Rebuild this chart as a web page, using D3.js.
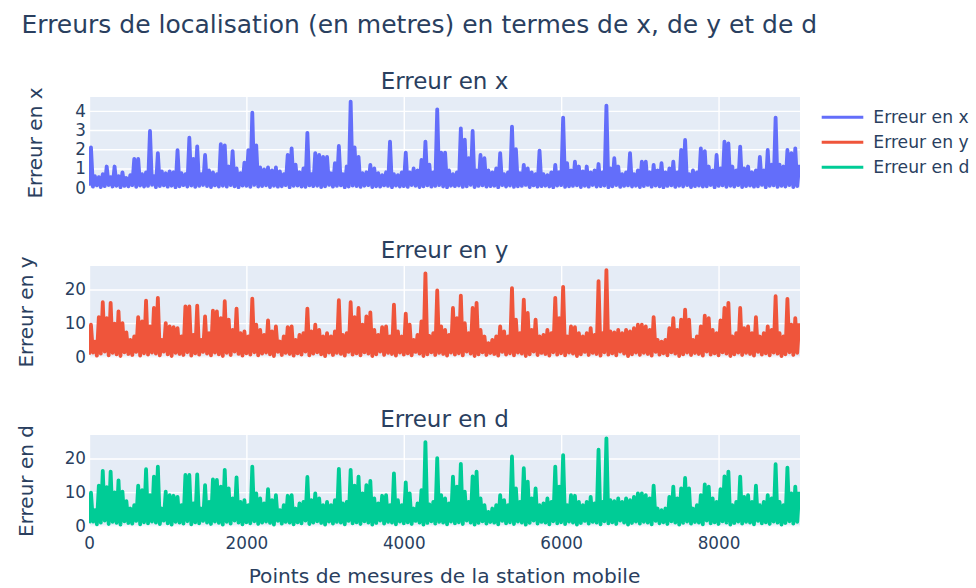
<!DOCTYPE html>
<html>
<head>
<meta charset="utf-8">
<script src="https://cdn.jsdelivr.net/npm/d3@7"></script>
<style>
  body { margin: 0; background: #fff; }
  svg { display: block; }
  text { font-family: "DejaVu Sans", Verdana, sans-serif; fill: #2a3f5f; }
</style>
</head>
<body>
<svg id="chart" width="976" height="588"></svg>
<script>
// Sample spacing (point index step between consecutive values)
const pas = 25;
const indexMax = 9035;

const titre = "Erreurs de localisation (en metres) en termes de x, de y et de d";
const titreAxeX = "Points de mesures de la station mobile";
const nomsSeries = ["Erreur en x", "Erreur en y", "Erreur en d"];
const couleurs = ["#636efa", "#EF553B", "#00cc96"];

const ticksX = [0, 2000, 4000, 6000, 8000];
const ticksYx = [0, 1, 2, 3, 4];
const ticksYy = [0, 10, 20];
const ticksYd = [0, 10, 20];

// Error in x: local minima and peaks, alternating along the measurement index
const creuxX = [
  0.1,0.05,0.12,0.03,0.08,0.14,0.06,0.1,0.02,0.09,
  0.07,0.13,0.04,0.11,0.06,0.09,0.15,0.03,0.08,0.12,
  0.05,0.1,0.02,0.07,0.13,0.06,0.11,0.04,0.09,0.14,
  0.08,0.03,0.12,0.06,0.1,0.05,0.13,0.07,0.02,0.11,
  0.09,0.04,0.14,0.06,0.08,0.12,0.03,0.1,0.05,0.07,
  0.13,0.02,0.09,0.11,0.06,0.04,0.12,0.08,0.1,0.03,
  0.07,0.14,0.05,0.09,0.12,0.02,0.06,0.11,0.08,0.04,
  0.1,0.13,0.03,0.07,0.05,0.12,0.09,0.02,0.11,0.06,
  0.08,0.04,0.14,0.1,0.03,0.07,0.12,0.05,0.09,0.13,
  0.06,0.02,0.1,0.08,0.11,0.04,0.07,0.14,0.03,0.09,
  0.12,0.05,0.08,0.1,0.02,0.13,0.06,0.11,0.04,0.07,
  0.09,0.14,0.03,0.12,0.05,0.08,0.1,0.06,0.02,0.11,
  0.13,0.04,0.07,0.09,0.12,0.03,0.1,0.05,0.14,0.06,
  0.08,0.11,0.02,0.07,0.13,0.04,0.09,0.12,0.06,0.1,
  0.03,0.08,0.14,0.05,0.11,0.07,0.02,0.09,0.12,0.04,
  0.1,0.06,0.13,0.03,0.08,0.11,0.05,0.07,0.14,0.02,
  0.09,0.12,0.04,0.1,0.06,0.13,0.03,0.08,0.11,0.05,
  0.07,0.14,0.02,0.09,0.12,0.04,0.1,0.06,0.13,0.03,
  0.08
];
const picsX = [
  2.1,0.6,0.55,0.7,1.1,0.55,1.1,0.6,0.8,0.5,
  0.65,1.5,1.5,0.7,0.8,2.95,0.6,1.8,0.85,0.75,
  0.85,0.8,1.95,0.75,0.7,2.6,1.5,2.15,0.7,1.7,
  0.9,0.8,0.7,2.27,2.2,1.1,1.9,1.0,0.75,1.3,
  1.95,3.9,2.2,1.05,0.95,1.05,0.9,1.05,0.85,0.7,
  1.7,2.05,1.2,0.8,1.0,2.85,0.7,1.8,1.7,1.6,
  1.6,0.75,1.27,2.17,0.7,1.1,4.48,2.1,1.6,0.75,
  0.8,1.18,1.0,0.75,0.65,0.8,2.4,0.7,0.65,0.8,
  1.82,0.8,1.0,0.9,1.44,2.4,1.2,0.8,4.08,1.82,
  1.82,0.9,0.7,0.8,3.09,2.5,1.53,2.95,0.9,1.7,
  1.53,0.9,0.8,1.0,1.8,0.7,0.8,3.18,2.0,0.75,
  1.18,1.0,0.8,0.7,1.93,0.7,0.65,0.8,1.18,0.8,
  3.65,1.27,0.9,1.35,1.1,0.85,1.1,0.8,0.9,1.23,
  0.8,4.27,1.0,1.53,1.1,0.7,0.8,1.8,0.7,0.9,
  1.35,1.35,0.8,1.18,0.9,1.27,0.8,1.0,1.35,0.8,
  1.96,2.48,0.7,0.9,0.8,2.05,1.9,1.1,0.9,1.7,
  1.0,2.4,2.3,1.1,0.9,2.14,1.0,1.1,0.8,0.9,
  1.6,0.9,1.96,1.2,3.65,1.2,1.1,1.96,1.8,2.05,
  1.2
];

// Error in y
const creuxY = [
  0.6,1.2,0.3,0.9,1.5,0.4,1.1,0.7,0.2,1.3,
  0.8,0.5,1.4,0.3,1.0,0.6,1.2,0.9,0.4,1.5,
  0.7,0.2,1.1,0.8,0.5,1.3,0.3,1.0,0.6,1.4,
  0.9,0.4,1.2,0.7,0.2,1.1,0.5,1.5,0.8,0.3,
  1.0,0.6,1.3,0.4,0.9,1.2,0.7,0.2,1.4,0.5,
  1.1,0.8,0.3,1.0,0.6,1.5,0.4,0.9,1.3,0.7,
  0.2,1.2,0.5,1.1,0.8,0.3,1.4,0.6,1.0,0.4,
  1.3,0.9,0.2,0.7,1.5,0.5,1.1,0.8,0.3,1.2,
  0.6,1.0,0.4,1.4,0.9,0.2,0.7,1.3,0.5,1.1,
  0.8,0.3,1.2,0.6,1.0,0.4,1.5,0.9,0.2,0.7,
  1.3,0.5,1.1,0.8,0.3,1.4,0.6,1.0,0.4,1.2,
  0.9,0.2,0.7,1.5,0.5,1.1,0.8,0.3,1.3,0.6,
  1.0,0.4,1.2,0.9,0.2,0.7,1.4,0.5,1.1,0.8,
  0.3,1.3,0.6,1.0,0.4,1.5,0.9,0.2,0.7,1.2,
  0.5,1.1,0.8,0.3,1.4,0.6,1.0,0.4,1.3,0.9,
  0.2,0.7,1.2,0.5,1.1,0.8,0.3,1.5,0.6,1.0,
  0.4,1.3,0.9,0.2,0.7,1.2,0.5,1.1,0.8,0.3,
  1.4,0.6,1.0,0.4,1.2,0.9,0.2,0.7,1.3,0.5,
  1.1
];
const picsY = [
  9.5,4.5,11.8,16.2,11.5,16,9.8,13.5,10,7.2,
  5,6,11.8,10.5,16.7,9,14.5,17.5,5,10,
  9,8.8,8.5,6,15,15,6.5,15.2,5,12,
  7,13.7,13.5,11.5,16.5,11,8,14.3,7,7.5,
  6,17.3,9.5,8,6.5,10.8,7.5,9,4.5,6,
  8.8,9,5,6.5,7,14.3,7.5,9.5,8,6,
  7,6,7.5,16.8,6.5,7,16.2,11.8,14.5,9.5,
  12,13.2,8,6.5,8.8,9,6,15.5,7.5,6,
  12.8,9.5,5,6.5,10.5,24.8,6.2,7,19.7,9,
  8,6.5,14.5,11.5,18.2,10,7,14.5,16,8,
  6,4,5,6,9,7.5,6,20.4,11,7,
  17,13,8,11,6,6.5,8,7,17.5,11.5,
  20.8,6,9,8.8,7,6,7,8.5,6.5,22.5,
  7,25.8,7.5,7.2,8,7,8,7.5,8.5,9.5,
  9.5,9,8,11.8,5,4.5,5,8.5,11.5,8,
  11,14,11,5,6,9,12.2,11.5,8,7,
  10.8,14.5,16,6,7,14.5,8.5,9,7,11.8,
  6,7,9,8,18,7,6,17.2,9.5,11.5,
  10
];

// Error in distance d
const creuxD = [
  0.7,1.2,0.4,0.9,1.5,0.5,1.1,0.8,0.3,1.3,
  0.8,0.6,1.4,0.4,1.0,0.7,1.2,0.9,0.5,1.5,
  0.7,0.3,1.1,0.9,0.6,1.3,0.4,1.0,0.7,1.4,
  0.9,0.5,1.2,0.8,0.3,1.1,0.6,1.5,0.9,0.4,
  1.0,0.7,1.3,0.5,0.9,1.2,0.8,0.3,1.4,0.6,
  1.1,0.9,0.4,1.0,0.7,1.5,0.5,0.9,1.3,0.8,
  0.3,1.2,0.6,1.1,0.9,0.4,1.4,0.7,1.0,0.5,
  1.3,0.9,0.3,0.8,1.5,0.6,1.1,0.9,0.4,1.2,
  0.7,1.0,0.5,1.4,0.9,0.3,0.8,1.3,0.6,1.1,
  0.9,0.4,1.2,0.7,1.0,0.5,1.5,0.9,0.3,0.8,
  1.3,0.6,1.1,0.9,0.4,1.4,0.7,1.0,0.5,1.2,
  0.9,0.3,0.8,1.5,0.6,1.1,0.9,0.4,1.3,0.7,
  1.0,0.5,1.2,0.9,0.3,0.8,1.4,0.6,1.1,0.9,
  0.4,1.3,0.7,1.0,0.5,1.5,0.9,0.3,0.8,1.2,
  0.6,1.1,0.9,0.4,1.4,0.7,1.0,0.5,1.3,0.9,
  0.3,0.8,1.2,0.6,1.1,0.9,0.4,1.5,0.7,1.0,
  0.5,1.3,0.9,0.3,0.8,1.2,0.6,1.1,0.9,0.4,
  1.4,0.7,1.0,0.5,1.2,0.9,0.3,0.8,1.3,0.6,
  1.1
];
const picsD = [
  9.8,4.6,11.9,16.3,11.5,16.1,9.9,13.5,10.1,7.3,
  5.1,6.1,11.9,10.6,16.8,9.1,14.6,17.6,5.1,10.1,
  9.1,8.9,8.6,6.1,15.1,15.1,6.6,15.3,5.1,12.1,
  7.1,13.8,13.6,11.6,16.6,11.1,8.1,14.4,7.1,7.6,
  6.1,17.6,9.6,8.1,6.6,10.9,7.6,9.1,4.6,6.1,
  8.9,9.1,5.1,6.6,7.1,14.5,7.6,9.6,8.1,6.1,
  7.1,6.1,7.6,16.9,6.6,7.1,16.6,11.9,14.6,9.6,
  12.1,13.3,8.1,6.6,8.9,9.1,6.1,15.6,7.6,6.1,
  12.9,9.6,5.1,6.6,10.6,24.9,6.3,7.1,20.1,9.1,
  8.1,6.6,14.6,11.6,18.4,10.1,7.1,14.7,16.1,8.1,
  6.1,4.1,5.1,6.1,9.1,7.6,6.1,20.6,11.1,7.1,
  17.1,13.1,8.1,11.1,6.1,6.6,8.1,7.1,17.6,11.6,
  21.0,6.1,9.1,8.9,7.1,6.1,7.1,8.6,6.6,22.6,
  7.1,26.0,7.6,7.3,8.1,7.1,8.1,7.6,8.6,9.6,
  9.6,9.1,8.1,11.9,5.1,4.6,5.1,8.6,11.6,8.1,
  11.1,14.2,11.1,5.1,6.1,9.1,12.3,11.6,8.1,7.1,
  10.9,14.7,16.1,6.1,7.1,14.6,8.6,9.1,7.1,11.9,
  6.1,7.1,9.1,8.1,18.3,7.1,6.1,17.3,9.6,11.6,
  10.1
];

// Interleave minima and peaks into one ordered series of (index, value)
function serie(creux, pics) {
  const pts = [];
  creux.forEach((c, k) => {
    pts.push([2 * k * pas, c]);
    pts.push([(2 * k + 1) * pas, pics[k]]);
  });
  return pts;
}

const panneaux = [
  { nom: nomsSeries[0], couleur: couleurs[0], donnees: serie(creuxX, picsX),
    top: 97, domaine: [-0.07, 4.72], ticks: ticksYx, titreX: 42 },
  { nom: nomsSeries[1], couleur: couleurs[1], donnees: serie(creuxY, picsY),
    top: 266, domaine: [-0.4, 27], ticks: ticksYy, titreX: 32.5 },
  { nom: nomsSeries[2], couleur: couleurs[2], donnees: serie(creuxD, picsD),
    top: 435, domaine: [-0.4, 27], ticks: ticksYd, titreX: 32.5 }
];

const gauche = 89, droite = 800, hauteur = 92;
const svg = d3.select("#chart");

const x = d3.scaleLinear().domain([0, indexMax]).range([gauche, droite]);

svg.append("text")
  .attr("x", 21.5).attr("y", 33.3)
  .attr("font-size", 25)
  .text(titre);

panneaux.forEach((p, i) => {
  const y = d3.scaleLinear().domain(p.domaine).range([p.top + hauteur, p.top]);
  const g = svg.append("g");

  g.append("rect")
    .attr("x", gauche).attr("y", p.top)
    .attr("width", droite - gauche).attr("height", hauteur)
    .attr("fill", "#E5ECF6");

  // vertical grid (and bottom tick labels on the last panel)
  const axeX = d3.axisBottom(x).tickValues(ticksX).tickSize(-hauteur)
    .tickPadding(10.5).tickFormat(i === panneaux.length - 1 ? d3.format("d") : () => "");
  const gx = g.append("g").attr("transform", `translate(0,${p.top + hauteur})`).call(axeX);
  gx.select(".domain").remove();
  gx.selectAll("line").attr("stroke", "#fff").attr("stroke-width", 1.4);
  gx.selectAll("text").attr("font-size", 16.8).attr("fill", "#2a3f5f")
    .attr("font-family", "DejaVu Sans, Verdana, sans-serif");

  // horizontal grid and y tick labels
  const axeY = d3.axisLeft(y).tickValues(p.ticks).tickSize(-(droite - gauche))
    .tickPadding(3).tickFormat(d3.format("d"));
  const gy = g.append("g").attr("transform", `translate(${gauche},0)`).call(axeY);
  gy.select(".domain").remove();
  gy.selectAll("line").attr("stroke", "#fff").attr("stroke-width", 1.4);
  gy.selectAll("text").attr("font-size", 16.8).attr("fill", "#2a3f5f")
    .attr("font-family", "DejaVu Sans, Verdana, sans-serif");

  const clipId = "clip" + i;
  svg.append("clipPath").attr("id", clipId)
    .append("rect").attr("x", gauche).attr("y", p.top)
    .attr("width", droite - gauche).attr("height", hauteur);

  const ligne = d3.line().x(d => x(d[0])).y(d => y(d[1]));
  g.append("path")
    .datum(p.donnees)
    .attr("clip-path", `url(#${clipId})`)
    .attr("fill", "none")
    .attr("stroke", p.couleur)
    .attr("stroke-width", 3.8)
    .attr("stroke-linejoin", "round")
    .attr("d", ligne);

  // subplot title
  g.append("text")
    .attr("x", (gauche + droite) / 2).attr("y", p.top - 8.5)
    .attr("text-anchor", "middle").attr("font-size", 23)
    .text(p.nom);

  // y axis title
  g.append("text")
    .attr("transform", `translate(${p.titreX},${p.top + hauteur / 2}) rotate(-90)`)
    .attr("text-anchor", "middle").attr("font-size", 20)
    .text(p.nom);
});

svg.append("text")
  .attr("x", (gauche + droite) / 2).attr("y", 582.5)
  .attr("text-anchor", "middle").attr("font-size", 20.2)
  .text(titreAxeX);

// legend
const legende = svg.append("g");
nomsSeries.forEach((nom, i) => {
  const ly = 117.3 + i * 25;
  legende.append("line")
    .attr("x1", 821.7).attr("x2", 863.3).attr("y1", ly).attr("y2", ly)
    .attr("stroke", couleurs[i]).attr("stroke-width", 3);
  legende.append("text")
    .attr("x", 873.3).attr("y", ly).attr("dy", "0.33em")
    .attr("font-size", 17.2)
    .text(nom);
});
</script>
</body>
</html>
